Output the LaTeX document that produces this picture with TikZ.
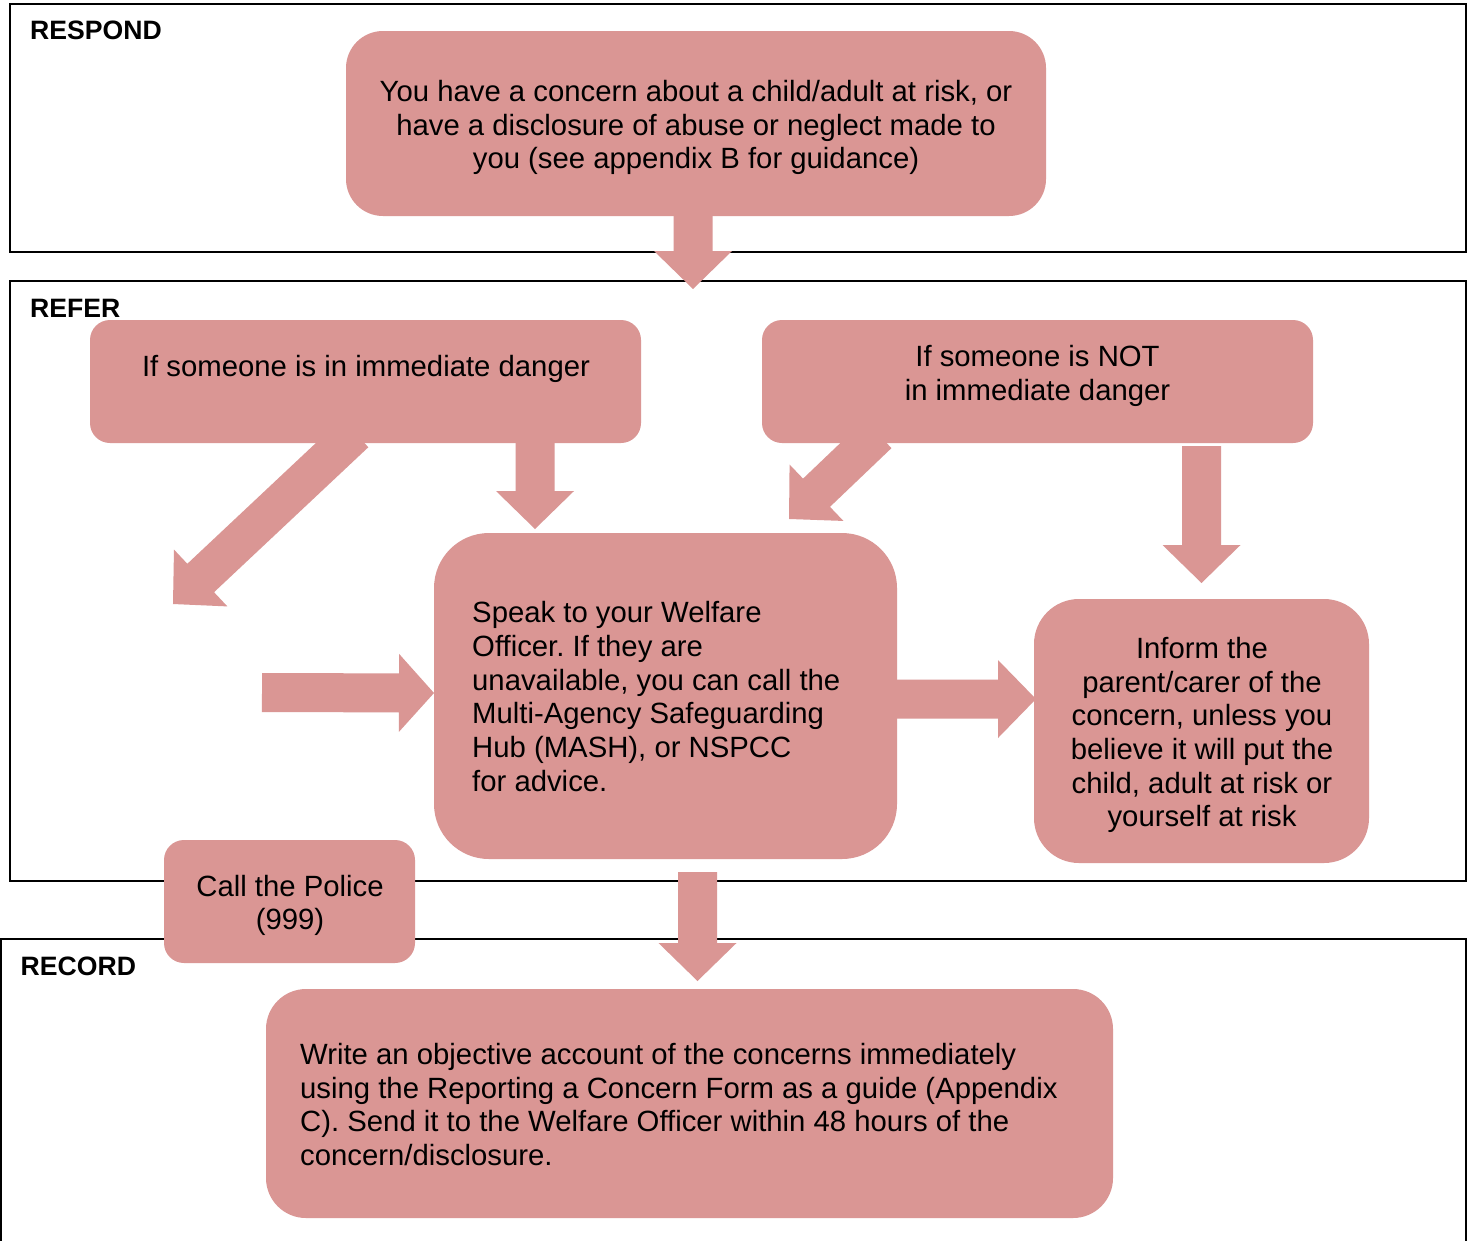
\documentclass[tikz,border=0pt]{standalone}
\usepackage{fontspec}
\setmainfont{Liberation Sans}
\usetikzlibrary{calc}
\frenchspacing
\definecolor{pinkc}{RGB}{218,150,148}
\tikzset{
  frame/.style={draw=black, line width=2pt},
  box/.style={fill=pinkc, draw=none, inner sep=0pt},
  arrowfill/.style={fill=pinkc},
  txt/.style={inner sep=0pt, font=\fontsize{29.3}{33.7}\selectfont\frenchspacing, text=black},
  lbl/.style={inner sep=0pt, font=\fontsize{26.6}{30}\selectfont\bfseries, anchor=base west},
}
\newcommand\blockarrow[3][38]{%
  \path let \p1=(#2), \p2=(#3) in \pgfextra{%
    \pgfmathsetmacro\baangtmp{atan2(\y2-\y1,\x2-\x1)}%
    \pgfmathsetmacro\balentmp{veclen(\x2-\x1,\y2-\y1)}%
    \xdef\baang{\baangtmp}\xdef\balen{\balentmp}\xdef\bax{\x1}\xdef\bay{\y1}};
  \begin{scope}[shift={(\bax,\bay)}, rotate=\baang]
    \fill[arrowfill] (0,-19.5) -- (\balen-#1,-19.5) -- (\balen-#1,-39) -- (\balen,0)
      -- (\balen-#1,39) -- (\balen-#1,19.5) -- (0,19.5) -- cycle;
  \end{scope}}
\begin{document}
\begin{tikzpicture}[x=1pt, y=-1pt]
\useasboundingbox[fill=white] (0,0) rectangle (1471,1240);
% frames
\draw[frame] (10,4) rectangle (1466,252);
\draw[frame] (10,281) rectangle (1466,881);
\draw[frame] (1,1260) -- (1,939) -- (1466,939) -- (1466,1260);
\node[lbl] (lrespond) at (30,39.5) {RESPOND};
\node[lbl] (lrefer) at (30,317) {REFER};
\node[lbl] (lrecord) at (20.5,975.5) {RECORD};
% arrow coordinates
\coordinate (a1s) at (693,200);   \coordinate (a1e) at (693,289);
\coordinate (a2s) at (535,430);   \coordinate (a2e) at (535,529);
\coordinate (a3s) at (355,433);   \coordinate (a3e) at (173,604);
\coordinate (a4s) at (878,434);   \coordinate (a4e) at (789,519);
\coordinate (a5s) at (1201.5,446); \coordinate (a5e) at (1201.5,583);
\coordinate (a6s) at (262,692.5); \coordinate (a6e) at (434,693);
\coordinate (a7s) at (880,699);   \coordinate (a7e) at (1036,699);
\coordinate (a8s) at (697.5,872); \coordinate (a8e) at (697.5,981);
\blockarrow{a1s}{a1e}
\blockarrow{a2s}{a2e}
\blockarrow{a3s}{a3e}
\blockarrow{a4s}{a4e}
\blockarrow{a5s}{a5e}
\blockarrow[35]{a6s}{a6e}
\blockarrow{a7s}{a7e}
\blockarrow{a8s}{a8e}
% boxes
\node[box, minimum width=700pt, minimum height=185pt, rounded corners=37pt] (b1) at (696,123.5) {};
\node[box, minimum width=551pt, minimum height=123pt, rounded corners=20pt] (b2) at (365.5,381.5) {};
\node[box, minimum width=551pt, minimum height=123pt, rounded corners=20pt] (b3) at (1037.5,381.5) {};
\node[box, minimum width=463pt, minimum height=326pt, rounded corners=55pt] (b4) at (665.5,696) {};
\node[box, minimum width=335pt, minimum height=264pt, rounded corners=45pt] (b5) at (1201.5,731) {};
\node[box, minimum width=251pt, minimum height=123pt, rounded corners=20pt] (b6) at (289.5,901.5) {};
\node[box, minimum width=847pt, minimum height=229pt, rounded corners=40pt] (b7) at (689.5,1103.5) {};
% texts
\node[txt, align=center] (t1) at (696,127.5) {You have a concern about a child/adult at risk, or\\have a disclosure of abuse or neglect made to\\you (see appendix B for guidance)};
\node[txt, align=center] (t2) at (366,368.5) {If someone is in immediate danger};
\node[txt, align=center] (t3) at (1037.5,376) {If someone is NOT\\in immediate danger};
\node[txt, align=left, anchor=west] (t4) at (472,696.5) {Speak to your Welfare\\Officer. If they are\\unavailable, you can call the\\Multi-Agency Safeguarding\\Hub (MASH), or NSPCC\\for advice.};
\node[txt, align=center] (t5) at (1202,735) {Inform the\\parent/carer of the\\concern, unless you\\believe it will put the\\child, adult at risk or\\yourself at risk};
\node[txt, align=center] (t6) at (290,905.5) {Call the Police\\(999)};
\node[txt, align=left, anchor=west] (t7) at (300,1104.5) {Write an objective account of the concerns immediately\\using the Reporting a Concern Form as a guide (Appendix\\C). Send it to the Welfare Officer within 48 hours of the\\concern/disclosure.};
\end{tikzpicture}
\end{document}
